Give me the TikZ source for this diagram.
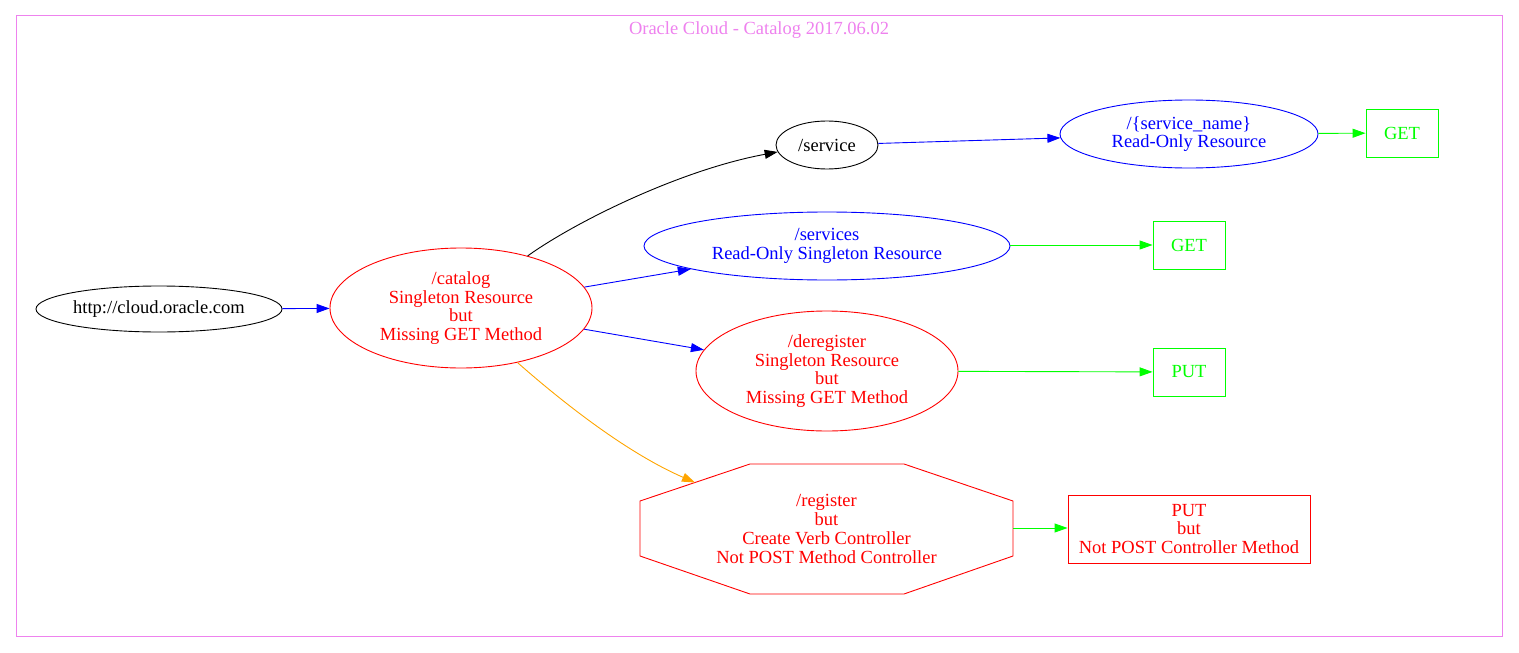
\documentclass[tikz,border=0pt]{standalone}
\usepackage{fontspec}
\setmainfont{Liberation Serif}
\usetikzlibrary{shapes.geometric,arrows.meta}
\definecolor{gvviolet}{HTML}{EE82EE}
\definecolor{gvgreen}{HTML}{00FF00}
\definecolor{gvorange}{HTML}{FFA500}
\begin{document}
\begin{tikzpicture}[x=1pt,y=-1pt,
  lbl/.style={font=\fontsize{18.5}{18.7}\selectfont, align=center, inner sep=0pt},
  ell/.style={lbl, ellipse, draw, line width=0.9pt},
  box/.style={lbl, rectangle, draw, line width=0.9pt},
  edge/.style={line width=0.9pt, -{Triangle[length=13pt,width=9pt]}}]
\useasboundingbox (0,0) rectangle (1519,653);
\draw[gvviolet, line width=0.9pt] (16,15) rectangle (1502,636);
\node[lbl, text=gvviolet] (title) at (759,30) {Oracle Cloud - Catalog 2017.06.02};

\node[ell, black, minimum width=246pt, minimum height=46pt] (http) at (159,309) {http://cloud.oracle.com};
\node[ell, red, minimum width=262pt, minimum height=120pt] (catalog) at (461,308) {/catalog\\Singleton Resource\\but\\Missing GET Method};
\node[ell, black, minimum width=102pt, minimum height=48pt] (service) at (827,145) {/service};
\node[ell, blue, minimum width=258pt, minimum height=68pt] (sname) at (1189,134) {/\{service\_name\}\\Read-Only Resource};
\node[ell, blue, minimum width=366pt, minimum height=68pt] (services) at (827,246) {/services\\Read-Only Singleton Resource};
\node[ell, red, minimum width=262pt, minimum height=120pt] (dereg) at (827,371) {/deregister\\Singleton Resource\\but\\Missing GET Method};

% register octagon
\node[lbl, text=red, minimum width=373pt, minimum height=130pt] (reg) at (826.5,529) {/register\\but\\Create Verb Controller\\Not POST Method Controller};
\draw[red, line width=0.9pt] (640,501) -- (750,464) -- (904,464) -- (1013,501) -- (1013,556) -- (904,594) -- (750,594) -- (640,556) -- cycle;
\coordinate (regin) at (695,482.5);
\coordinate (regout) at (1013,528);

\node[box, gvgreen, minimum width=72pt, minimum height=48pt] (get1) at (1402,133) {GET};
\node[box, gvgreen, minimum width=72pt, minimum height=48pt] (get2) at (1189,245) {GET};
\node[box, gvgreen, minimum width=72pt, minimum height=48pt] (put) at (1189,372) {PUT};
\node[box, red, minimum width=242pt, minimum height=68pt] (putbut) at (1189,529) {PUT\\but\\Not POST Controller Method};

\draw[edge, blue] (http) -- (catalog);
\draw[edge, black] (catalog.38) .. controls (575,222) and (680,170) .. (service.188);
\draw[edge, blue] (catalog) -- (services);
\draw[edge, blue] (catalog) -- (dereg);
\draw[edge, gvorange] (catalog.-44) .. controls (560,400) and (625,452) .. (regin);
\draw[edge, blue] (service) -- (sname);
\draw[edge, gvgreen] (sname) -- (get1);
\draw[edge, gvgreen] (services.east |- get2) -- (get2);
\draw[edge, gvgreen] (dereg) -- (put);
\draw[edge, gvgreen] (regout) -- (putbut.west |- regout);
\end{tikzpicture}
\end{document}
